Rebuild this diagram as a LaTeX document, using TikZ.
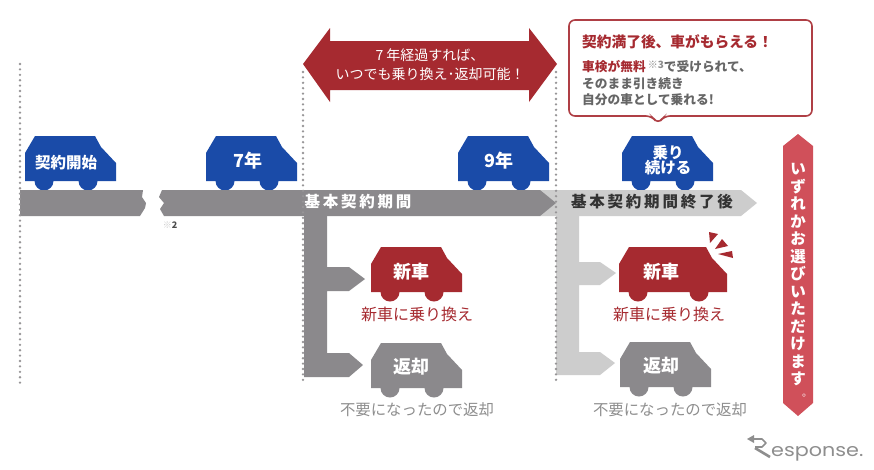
\documentclass[tikz,border=0pt]{standalone}
\usepackage{fontspec}
\setmainfont{Noto Sans CJK JP}
\newfontfamily\logofont{Poppins}
\usetikzlibrary{positioning}
\definecolor{navy}{HTML}{1A4BA8}
\definecolor{wine}{HTML}{A62A30}
\definecolor{rose}{HTML}{D0505A}
\definecolor{midgray}{HTML}{8B898C}
\definecolor{lightgray}{HTML}{CDCDCD}
\definecolor{txtgray}{HTML}{8E8E8E}
\newcommand{\fs}[1]{\fontsize{#1}{#1}\selectfont}
\tikzset{
  x=1pt,y=-1pt,
  dots/.style={draw=midgray!90,line width=2.6pt,line cap=round,dash pattern=on 0pt off 5.4pt},
  bar/.style={fill=midgray},
  lbar/.style={fill=lightgray},
  lbl/.style={inner sep=0pt,align=center},
  cartxt/.style={lbl,text=white,font=\bfseries\fs{18}},
  smalltxt/.style={lbl,font=\fs{15.4}},
  bartxt/.style={lbl,font=\bfseries\fs{15.5}\addfontfeature{LetterSpace=18}},
  pics/car/.style n args={2}{code={
    \fill[#1] (0,0) -- (0,-28) -- (10,-45) -- (70+#2,-45) -- (76+#2,-34) -- (91+#2,-18) -- (91+#2,0) -- cycle;
    \fill[#1] (19,0) circle[radius=9.5];
    \fill[#1] (63+#2,0) circle[radius=9.5];
  }},
}
\begin{document}
\begin{tikzpicture}
  \useasboundingbox[fill=white] (0,0) rectangle (874,469);
  % branches
  \fill[bar] (304,216) -- (327,216) -- (327,267) -- (349,267) -- (365,279) -- (349,291) -- (327,291) -- (327,353) -- (349,353) -- (363,365) -- (349,377) -- (304,377) -- cycle;
  \fill[lbar] (556,216) -- (579,216) -- (579,262) -- (600,262) -- (616,273) -- (600,285) -- (579,285) -- (579,352) -- (600,352) -- (615,363) -- (600,375) -- (556,375) -- cycle;
  % cars
  \pic at (25,181) {car={navy}{0}};
  \pic at (206,181) {car={navy}{0}};
  \pic at (458,181) {car={navy}{0}};
  \pic at (622,181) {car={navy}{0}};
  \pic at (371,292) {car={wine}{0}};
  \pic at (371,388) {car={midgray}{0}};
  \pic at (619,292) {car={wine}{17}};
  \pic at (620,387) {car={midgray}{0}};
  % time bars
  \fill[bar] (20,190) -- (143,190) -- (142,197) -- (146,203) -- (145,208) -- (140,216) -- (20,216) -- cycle;
  \fill[lbar] (540,190) -- (741,190) -- (757,203) -- (741,216) -- (540,216) -- cycle;
  \fill[bar] (162,190) -- (159,197) -- (164,203) -- (160,209) -- (164,216) -- (540,216) -- (556,203) -- (540,190) -- cycle;
  % dotted guides
  \draw[dots] (20,64) -- (20,385);
  \draw[dots] (303,72) -- (303,385);
  \draw[dots] (556,72) -- (556,385);
  % labels
  \node[bartxt,text=white] (term) at (358,202) {基本契約期間};
  \node[bartxt,text=black!80] (after) at (652,202) {基本契約期間終了後};
  \node[lbl,text=black!70,font=\bfseries\fs{9}] (noteb) at (170,225) {\textcolor{lightgray}{※}2};
  \node[cartxt,font=\bfseries\fs{15.5}] (start) at (66,163) {契約開始};
  \node[cartxt] (seven) at (248,161) {7年};
  \node[cartxt] (nine) at (499,161) {9年};
  \node[cartxt,font=\bfseries\fs{15.5}] (keep) at (668,160) {乗り\\続ける};
  \node[cartxt] (newa) at (411,272) {新車};
  \node[cartxt] (reta) at (411,367) {返却};
  \node[cartxt] (newb) at (661,272) {新車};
  \node[cartxt] (retb) at (661,366) {返却};
  \node[smalltxt,text=wine,font=\fs{16}] (swapa) at (417,314) {新車に乗り換え};
  \node[smalltxt,text=wine,font=\fs{16}] (swapb) at (669,314) {新車に乗り換え};
  \node[smalltxt,text=txtgray] (unusa) at (417,410) {不要になったので返却};
  \node[smalltxt,text=txtgray] (unusb) at (670,410) {不要になったので返却};
  % sparks
  \fill[wine] (710,243) -- (709,232) -- (718,234) -- cycle;
  \fill[wine] (715,249) -- (722,239) -- (728,246) -- cycle;
  \fill[wine] (718,254) -- (732,251) -- (733,258) -- cycle;
  % double arrow
  \fill[wine] (303,64) -- (330,28) -- (330,41) -- (529,41) -- (529,28) -- (557,64) -- (529,102) -- (529,90) -- (330,90) -- (330,102) -- cycle;
  \node[lbl,text=white,font=\fs{14}] (anytime) at (430,65) {7 年経過すれば、\\[5pt]いつでも乗り換え･返却可能！};
  % callout
  \draw[draw=wine!90,line width=1.6pt,fill=white,rounded corners=6pt] (569,20) -- (812,20) -- (812,116) -- (664,116) -- (658,124) -- (652,116) -- (569,116) -- cycle;
  \node[lbl,anchor=west,text=wine,font=\bfseries\fs{14.7}] (gift) at (582,42) {契約満了後、車がもらえる！};
  \node[lbl,anchor=north west,align=left,text=black!60,font=\bfseries\fs{12.7}] (giftnote) at (582,60) {\textcolor{wine}{車検が無料}\,\textcolor{txtgray}{\fs{10}\raisebox{3pt}{※3}}で受けられて、\\[4pt]そのまま引き続き\\[4pt]自分の車として乗れる!};
  % side banner
  \fill[rose] (798,134) -- (813,146) -- (813,403) -- (798,416) -- (783,403) -- (783,146) -- cycle;
  \node[lbl,text=white,font=\bfseries\fontsize{15.5}{17.5}\selectfont] (choice) at (798,275) {い\\ず\\れ\\か\\お\\選\\び\\い\\た\\だ\\け\\ま\\す};
  \node[lbl,text=white,font=\fs{10}] (stop) at (807,396) {。};
  % logo
  \draw[txtgray,line width=1.6pt,line join=round] (752,439) -- (762,439) -- (766,443) -- (762,447) -- (755,447);
  \draw[txtgray,line width=2.6pt] (755,448) -- (770,457);
  \fill[txtgray] (747,439) -- (754,435) -- (754,443) -- cycle;
  \node[lbl,anchor=base west,text=txtgray,font=\logofont\fs{18},xscale=1.15] (logo) at (771,456) {esponse.};
\end{tikzpicture}
\end{document}
